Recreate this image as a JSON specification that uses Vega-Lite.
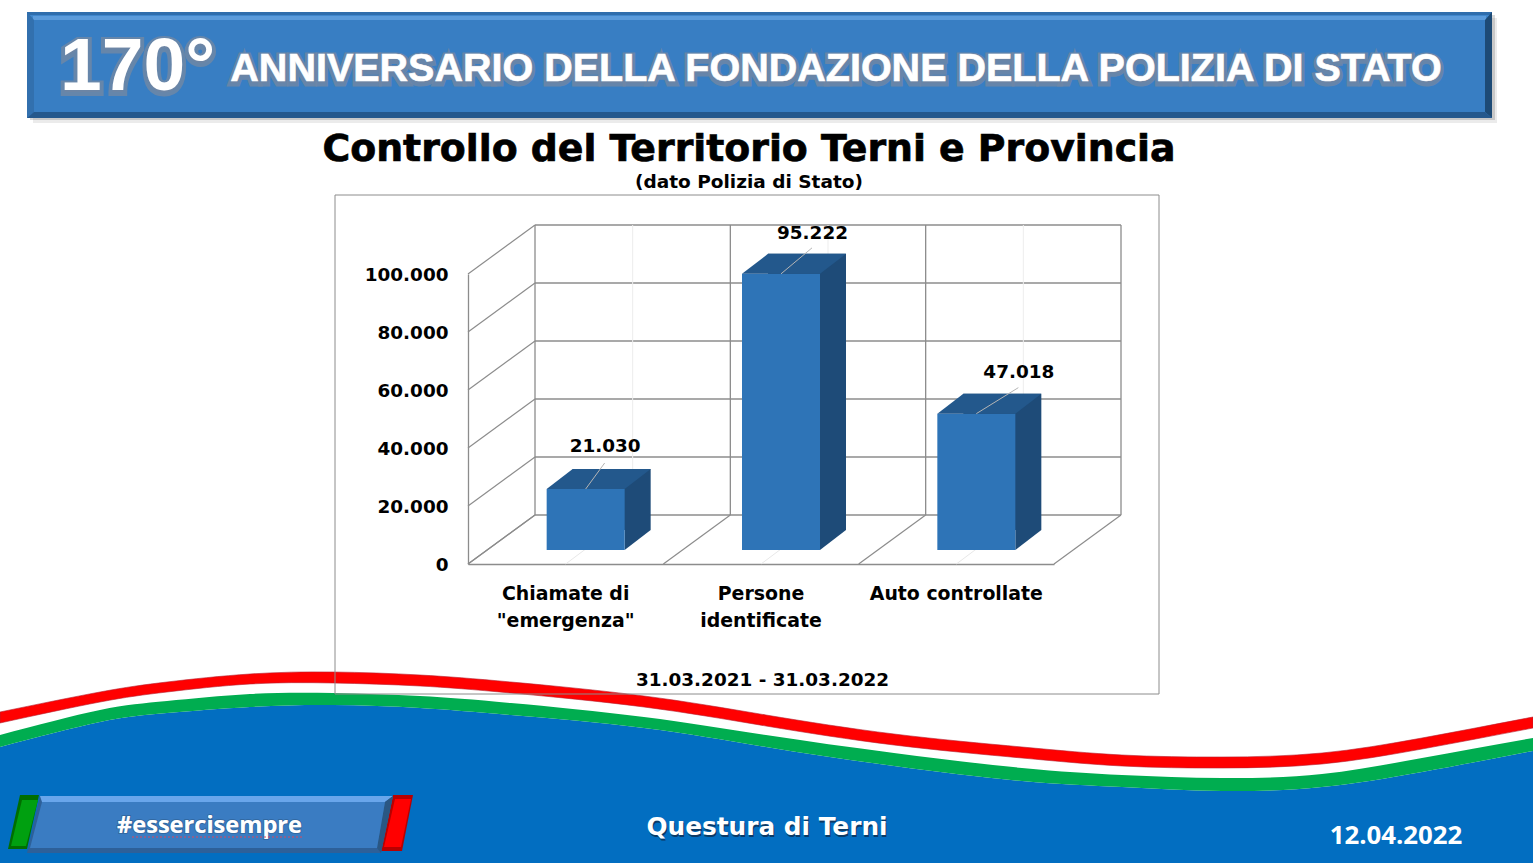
{
"$schema":"https://vega.github.io/schema/vega-lite/v6.json",
"width":1533,"height":863,"padding":0,"autosize":{"type":"none"},"background":"white",
"config":{"view":{"stroke":null},"locale":{"number":{"decimal":",","thousands":".","grouping":[3],"currency":["","€"]}}},
"data":{"values":[{"item":"page"}]},
"datasets":{
"bars":[{"categoria":"Chiamate di \"emergenza\"","valore":21030},{"categoria":"Persone identificate","valore":95222},{"categoria":"Auto controllate","valore":47018}],
"ticks":[{"tick":0},{"tick":20000},{"tick":40000},{"tick":60000},{"tick":80000},{"tick":100000}],
"walls":[{"pos":0},{"pos":1},{"pos":2},{"pos":3}],
"mids":[{"pos":0.5},{"pos":1.5},{"pos":2.5}],
"wave":[{"x":0,"rt":712,"rb":723,"gt":735,"gb":747},{"x":100,"rt":692,"rb":702,"gt":710,"gb":722},{"x":167,"rt":682,"rb":692,"gt":701,"gb":713},{"x":250,"rt":674,"rb":684,"gt":694,"gb":707},{"x":333,"rt":672,"rb":683,"gt":693,"gb":705},{"x":420,"rt":675,"rb":686,"gt":696,"gb":708},{"x":511,"rt":682,"rb":693,"gt":703,"gb":715},{"x":644,"rt":696,"rb":707,"gt":717,"gb":728},{"x":766,"rt":715,"rb":726,"gt":735,"gb":747},{"x":894,"rt":734,"rb":745,"gt":753,"gb":766},{"x":1022,"rt":747,"rb":758,"gt":768,"gb":781},{"x":1122,"rt":755,"rb":766,"gt":775,"gb":787},{"x":1222,"rt":757,"rb":768,"gt":778,"gb":791},{"x":1322,"rt":753,"rb":764,"gt":774,"gb":787},{"x":1422,"rt":738,"rb":749,"gt":758,"gb":772},{"x":1533,"rt":717,"rb":728,"gt":738,"gb":751}]
},
"resolve":{"scale":{"x":"independent","y":"independent"}},
"layer":[
{"layer":[
{"data":{"name":"wave"},"mark":{"type":"area","interpolate":"natural","color":"#026EC1"},"encoding":{"x":{"field":"x","type":"quantitative","scale":{"domain":[0,1533]},"axis":null},"y":{"field":"gb","type":"quantitative","stack":null,"scale":{"domain":[863,0]},"axis":null},"y2":{"datum":863}}},
{"data":{"name":"wave"},"mark":{"type":"area","interpolate":"natural","color":"#00AD50"},"encoding":{"x":{"field":"x","type":"quantitative","scale":{"domain":[0,1533]},"axis":null},"y":{"field":"gt","type":"quantitative","stack":null,"scale":{"domain":[863,0]},"axis":null},"y2":{"field":"gb"}}},
{"data":{"name":"wave"},"mark":{"type":"area","interpolate":"natural","color":"#FF0000","stroke":"#B5202E","strokeWidth":1,"strokeOpacity":0.6},"encoding":{"x":{"field":"x","type":"quantitative","scale":{"domain":[0,1533]},"axis":null},"y":{"field":"rt","type":"quantitative","stack":null,"scale":{"domain":[863,0]},"axis":null},"y2":{"field":"rb"}}},

{"mark":{"type":"rect","color":"#000000","opacity":0.08},"encoding":{"x":{"datum":33,"type":"quantitative","scale":{"domain":[0,1533]},"axis":null},"x2":{"datum":1497},"y":{"datum":18,"type":"quantitative","scale":{"domain":[863,0]},"axis":null},"y2":{"datum":123}}},
{"mark":{"type":"rect","color":"#000000","opacity":0.15},"encoding":{"x":{"datum":30,"type":"quantitative","scale":{"domain":[0,1533]},"axis":null},"x2":{"datum":1495},"y":{"datum":15,"type":"quantitative","scale":{"domain":[863,0]},"axis":null},"y2":{"datum":120}}},
{"mark":{"type":"rect","color":"#387EC3"},"encoding":{"x":{"datum":27,"type":"quantitative","scale":{"domain":[0,1533]},"axis":null},"x2":{"datum":1492},"y":{"datum":12,"type":"quantitative","scale":{"domain":[863,0]},"axis":null},"y2":{"datum":118}}},
{"mark":{"type":"point","shape":"M0,0L1465,0L1458,8L7,8Z","size":4,"filled":true,"opacity":1,"strokeWidth":0,"color":"#3F86CC"},"encoding":{"x":{"datum":27,"type":"quantitative","scale":{"domain":[0,1533]},"axis":null},"y":{"datum":12,"type":"quantitative","scale":{"domain":[863,0]},"axis":null}}},
{"mark":{"type":"rect","color":"#2F6DAC"},"encoding":{"x":{"datum":27,"type":"quantitative","scale":{"domain":[0,1533]},"axis":null},"x2":{"datum":1492},"y":{"datum":12,"type":"quantitative","scale":{"domain":[863,0]},"axis":null},"y2":{"datum":15}}},
{"mark":{"type":"rect","color":"#5B9BDB"},"encoding":{"x":{"datum":33,"type":"quantitative","scale":{"domain":[0,1533]},"axis":null},"x2":{"datum":1486},"y":{"datum":16,"type":"quantitative","scale":{"domain":[863,0]},"axis":null},"y2":{"datum":20}}},
{"mark":{"type":"point","shape":"M0,0L7,8L7,100L0,106Z","size":4,"filled":true,"opacity":1,"strokeWidth":0,"color":"#3270AE"},"encoding":{"x":{"datum":27,"type":"quantitative","scale":{"domain":[0,1533]},"axis":null},"y":{"datum":12,"type":"quantitative","scale":{"domain":[863,0]},"axis":null}}},
{"mark":{"type":"point","shape":"M0,0L0,106L-7,100L-7,8Z","size":4,"filled":true,"opacity":1,"strokeWidth":0,"color":"#1D4A75"},"encoding":{"x":{"datum":1492,"type":"quantitative","scale":{"domain":[0,1533]},"axis":null},"y":{"datum":12,"type":"quantitative","scale":{"domain":[863,0]},"axis":null}}},
{"mark":{"type":"point","shape":"M0,0L1465,0L1458,-6L7,-6Z","size":4,"filled":true,"opacity":1,"strokeWidth":0,"color":"#25588C"},"encoding":{"x":{"datum":27,"type":"quantitative","scale":{"domain":[0,1533]},"axis":null},"y":{"datum":118,"type":"quantitative","scale":{"domain":[863,0]},"axis":null}}},

{"mark":{"type":"text","text":"170°","font":"Liberation Sans","fontWeight":"bold","fontSize":75,"align":"left","baseline":"middle","fill":"#5F7A9E","stroke":"#6F87A6","strokeWidth":8,"strokeOpacity":0.85,"dy":2},"encoding":{"x":{"datum":60,"type":"quantitative","scale":{"domain":[0,1533]},"axis":null},"y":{"datum":67,"type":"quantitative","scale":{"domain":[863,0]},"axis":null}}},
{"mark":{"type":"text","text":"170°","font":"Liberation Sans","fontWeight":"bold","fontSize":75,"align":"left","baseline":"middle","fill":"#FFFFFF"},"encoding":{"x":{"datum":60,"type":"quantitative","scale":{"domain":[0,1533]},"axis":null},"y":{"datum":67,"type":"quantitative","scale":{"domain":[863,0]},"axis":null}}},
{"mark":{"type":"text","text":"ANNIVERSARIO DELLA FONDAZIONE DELLA POLIZIA DI STATO","font":"Liberation Sans","fontWeight":"bold","fontSize":39.5,"align":"center","baseline":"middle","fill":"#5F7A9E","stroke":"#6F87A6","strokeWidth":7,"strokeOpacity":0.85,"dy":2},"encoding":{"x":{"datum":836,"type":"quantitative","scale":{"domain":[0,1533]},"axis":null},"y":{"datum":69,"type":"quantitative","scale":{"domain":[863,0]},"axis":null}}},
{"mark":{"type":"text","text":"ANNIVERSARIO DELLA FONDAZIONE DELLA POLIZIA DI STATO","font":"Liberation Sans","fontWeight":"bold","fontSize":39.5,"align":"center","baseline":"middle","fill":"#FFFFFF","stroke":"#FFFFFF","strokeWidth":0.6},"encoding":{"x":{"datum":836,"type":"quantitative","scale":{"domain":[0,1533]},"axis":null},"y":{"datum":69,"type":"quantitative","scale":{"domain":[863,0]},"axis":null}}},

{"mark":{"type":"text","text":"Controllo del Territorio Terni e Provincia","font":"DejaVu Sans","fontWeight":"bold","fontSize":37.8,"align":"center","baseline":"middle","fill":"#000000","stroke":"#000000","strokeWidth":0.7},"encoding":{"x":{"datum":749,"type":"quantitative","scale":{"domain":[0,1533]},"axis":null},"y":{"datum":150,"type":"quantitative","scale":{"domain":[863,0]},"axis":null}}},
{"mark":{"type":"text","text":"(dato Polizia di Stato)","font":"DejaVu Sans","fontWeight":"bold","fontSize":18.5,"align":"center","baseline":"middle","fill":"#000000"},"encoding":{"x":{"datum":749,"type":"quantitative","scale":{"domain":[0,1533]},"axis":null},"y":{"datum":182,"type":"quantitative","scale":{"domain":[863,0]},"axis":null}}},
{"mark":{"type":"rect","fillOpacity":0,"fill":"#FFFFFF","stroke":"#8C8C8C","strokeWidth":1},"encoding":{"x":{"datum":335,"type":"quantitative","scale":{"domain":[0,1533]},"axis":null},"x2":{"datum":1159},"y":{"datum":195,"type":"quantitative","scale":{"domain":[863,0]},"axis":null},"y2":{"datum":694}}},
{"mark":{"type":"text","text":"31.03.2021 - 31.03.2022","font":"DejaVu Sans","fontWeight":"bold","fontSize":18.4,"align":"center","baseline":"middle","fill":"#000000"},"encoding":{"x":{"datum":762.5,"type":"quantitative","scale":{"domain":[0,1533]},"axis":null},"y":{"datum":680,"type":"quantitative","scale":{"domain":[863,0]},"axis":null}}},

{"mark":{"type":"point","shape":"M12,0L31,0L19,54L0,54Z","size":4,"filled":true,"opacity":1,"strokeWidth":0,"color":"#006E00"},"encoding":{"x":{"datum":8,"type":"quantitative","scale":{"domain":[0,1533]},"axis":null},"y":{"datum":795,"type":"quantitative","scale":{"domain":[863,0]},"axis":null}}},
{"mark":{"type":"point","shape":"M14,5L30,5L18,51L3,51Z","size":4,"filled":true,"opacity":1,"strokeWidth":0,"color":"#00A010"},"encoding":{"x":{"datum":8,"type":"quantitative","scale":{"domain":[0,1533]},"axis":null},"y":{"datum":795,"type":"quantitative","scale":{"domain":[863,0]},"axis":null}}},
{"mark":{"type":"point","shape":"M12,0L32,0L21,56L0,56Z","size":4,"filled":true,"opacity":1,"strokeWidth":0,"color":"#B80000"},"encoding":{"x":{"datum":381,"type":"quantitative","scale":{"domain":[0,1533]},"axis":null},"y":{"datum":795,"type":"quantitative","scale":{"domain":[863,0]},"axis":null}}},
{"mark":{"type":"point","shape":"M14,4L30,4L20,52L3,52Z","size":4,"filled":true,"opacity":1,"strokeWidth":0,"color":"#FF0000"},"encoding":{"x":{"datum":381,"type":"quantitative","scale":{"domain":[0,1533]},"axis":null},"y":{"datum":795,"type":"quantitative","scale":{"domain":[863,0]},"axis":null}}},
{"mark":{"type":"point","shape":"M13,0L366,0L354,57L0,57Z","size":4,"filled":true,"opacity":1,"strokeWidth":0,"color":"#2D6099"},"encoding":{"x":{"datum":27,"type":"quantitative","scale":{"domain":[0,1533]},"axis":null},"y":{"datum":796,"type":"quantitative","scale":{"domain":[863,0]},"axis":null}}},
{"mark":{"type":"point","shape":"M13,0L366,0L358,6L15,6Z","size":4,"filled":true,"opacity":1,"strokeWidth":0,"color":"#69A6EB"},"encoding":{"x":{"datum":27,"type":"quantitative","scale":{"domain":[0,1533]},"axis":null},"y":{"datum":796,"type":"quantitative","scale":{"domain":[863,0]},"axis":null}}},
{"mark":{"type":"point","shape":"M366,0L354,57L350,52L358,6Z","size":4,"filled":true,"opacity":1,"strokeWidth":0,"color":"#2A5783"},"encoding":{"x":{"datum":27,"type":"quantitative","scale":{"domain":[0,1533]},"axis":null},"y":{"datum":796,"type":"quantitative","scale":{"domain":[863,0]},"axis":null}}},
{"mark":{"type":"point","shape":"M15,6L358,6L350,52L3,52Z","size":4,"filled":true,"opacity":1,"strokeWidth":0,"color":"#3A7CC2"},"encoding":{"x":{"datum":27,"type":"quantitative","scale":{"domain":[0,1533]},"axis":null},"y":{"datum":796,"type":"quantitative","scale":{"domain":[863,0]},"axis":null}}},
{"mark":{"type":"text","text":"#essercisempre","font":"Open Sans","fontWeight":"bold","fontSize":23.6,"align":"center","baseline":"middle","fill":"#FFFFFF","stroke":"#2A5783","strokeWidth":2,"strokeOpacity":0.5},"encoding":{"x":{"datum":209.5,"type":"quantitative","scale":{"domain":[0,1533]},"axis":null},"y":{"datum":826,"type":"quantitative","scale":{"domain":[863,0]},"axis":null}}},
{"mark":{"type":"text","text":"#essercisempre","font":"Open Sans","fontWeight":"bold","fontSize":23.6,"align":"center","baseline":"middle","fill":"#FFFFFF"},"encoding":{"x":{"datum":209.5,"type":"quantitative","scale":{"domain":[0,1533]},"axis":null},"y":{"datum":826,"type":"quantitative","scale":{"domain":[863,0]},"axis":null}}},
{"mark":{"type":"rule","color":"#D9485F","strokeWidth":1,"strokeDash":[2,2]},"encoding":{"x":{"datum":132,"type":"quantitative","scale":{"domain":[0,1533]},"axis":null},"x2":{"datum":303},"y":{"datum":837,"type":"quantitative","scale":{"domain":[863,0]},"axis":null}}},
{"mark":{"type":"text","text":"Questura di Terni","font":"DejaVu Sans","fontWeight":"bold","fontSize":24.8,"align":"center","baseline":"middle","fill":"#0B3A66","dx":1,"dy":2},"encoding":{"x":{"datum":767,"type":"quantitative","scale":{"domain":[0,1533]},"axis":null},"y":{"datum":828,"type":"quantitative","scale":{"domain":[863,0]},"axis":null}}},
{"mark":{"type":"text","text":"Questura di Terni","font":"DejaVu Sans","fontWeight":"bold","fontSize":24.8,"align":"center","baseline":"middle","fill":"#FFFFFF"},"encoding":{"x":{"datum":767,"type":"quantitative","scale":{"domain":[0,1533]},"axis":null},"y":{"datum":828,"type":"quantitative","scale":{"domain":[863,0]},"axis":null}}},
{"mark":{"type":"text","text":"12.04.2022","font":"Open Sans","fontWeight":"bold","fontSize":25.8,"align":"center","baseline":"middle","fill":"#FFFFFF"},"encoding":{"x":{"datum":1396,"type":"quantitative","scale":{"domain":[0,1533]},"axis":null},"y":{"datum":836,"type":"quantitative","scale":{"domain":[863,0]},"axis":null}}}
]},

{"layer":[
{"data":{"name":"ticks"},"mark":{"type":"rule","color":"#8C8C8C","strokeWidth":1.3},"encoding":{"x":{"datum":0,"type":"quantitative","scale":{"domain":[0,3],"range":[535,1121]},"axis":null},"x2":{"datum":3},"y":{"field":"tick","type":"quantitative","scale":{"domain":[0,100000],"range":[515,225]},"axis":null}}},
{"data":{"name":"mids"},"mark":{"type":"rule","color":"#EDEDED","strokeWidth":1},"encoding":{"x":{"field":"pos","type":"quantitative","scale":{"domain":[0,3],"range":[535,1121]},"axis":null},"y":{"datum":0,"type":"quantitative","scale":{"domain":[0,100000],"range":[515,225]},"axis":null},"y2":{"datum":100000}}},
{"data":{"name":"walls"},"mark":{"type":"rule","color":"#8C8C8C","strokeWidth":1.3},"encoding":{"x":{"field":"pos","type":"quantitative","scale":{"domain":[0,3],"range":[535,1121]},"axis":null},"y":{"datum":0,"type":"quantitative","scale":{"domain":[0,100000],"range":[515,225]},"axis":null},"y2":{"datum":100000}}},
{"data":{"name":"ticks"},"mark":{"type":"point","shape":"M0,0L-67,49","size":4,"filled":false,"opacity":1,"color":"#8C8C8C","strokeWidth":1.2},"encoding":{"x":{"datum":0,"type":"quantitative","scale":{"domain":[0,3],"range":[535,1121]},"axis":null},"y":{"field":"tick","type":"quantitative","scale":{"domain":[0,100000],"range":[515,225]},"axis":null}}},
{"data":{"name":"walls"},"mark":{"type":"point","shape":"M0,0L-67,49","size":4,"filled":false,"opacity":1,"color":"#8C8C8C","strokeWidth":1.2},"encoding":{"x":{"field":"pos","type":"quantitative","scale":{"domain":[0,3],"range":[535,1121]},"axis":null},"y":{"datum":0,"type":"quantitative","scale":{"domain":[0,100000],"range":[515,225]},"axis":null}}}
]},

{"data":{"name":"bars"},"mark":{"type":"point","shape":"M0,0L20,-15","size":4,"filled":false,"opacity":1,"color":"#E8E8E8","strokeWidth":1},
"encoding":{
"x":{"field":"categoria","type":"nominal","sort":null,"scale":{"type":"band","padding":0,"range":[468,1054]},"axis":{"title":null,"orient":"bottom","offset":-299,"ticks":false,"labelAngle":0,"domainColor":"#8C8C8C","domainWidth":1.3,"labelFont":"DejaVu Sans","labelFontWeight":"bold","labelFontSize":18.9,"labelColor":"#000000","labelPadding":20,"labelLineHeight":27,"labelLimit":0,"labelExpr":"indexof(datum.label,'Auto')==0 ? datum.label : [slice(datum.label,0,lastindexof(datum.label,' ')), slice(datum.label,lastindexof(datum.label,' ')+1)]"}},
"y":{"datum":0,"type":"quantitative","scale":{"domain":[0,100000],"range":[564,274]},"axis":{"title":null,"orient":"left","offset":-468,"values":[0,20000,40000,60000,80000,100000],"labelExpr":"format(datum.value, ',')","grid":false,"ticks":false,"domainColor":"#8C8C8C","domainWidth":1.3,"labelFont":"DejaVu Sans","labelFontWeight":"bold","labelFontSize":18.4,"labelColor":"#000000","labelPadding":20}}
}},

{"data":{"name":"bars"},"layer":[
{"mark":{"type":"bar","width":78,"color":"#1E4B78","xOffset":26,"yOffset":-20},"encoding":{"x":{"field":"categoria","type":"nominal","sort":null,"scale":{"type":"band","padding":0,"range":[488,1074]},"axis":null},"y":{"field":"valore","type":"quantitative","scale":{"domain":[0,100000],"range":[550,260]},"axis":null}}},
{"mark":{"type":"point","shape":"M39,0L65,-20L39,-20Z","size":4,"filled":true,"opacity":1,"strokeWidth":0,"color":"#1E4B78"},"encoding":{"x":{"field":"categoria","type":"nominal","sort":null,"scale":{"type":"band","padding":0,"range":[488,1074]},"axis":null},"y":{"datum":0,"type":"quantitative","scale":{"domain":[0,100000],"range":[550,260]},"axis":null}}},
{"mark":{"type":"bar","width":78,"color":"#2E74B7"},"encoding":{"x":{"field":"categoria","type":"nominal","sort":null,"scale":{"type":"band","padding":0,"range":[488,1074]},"axis":null},"y":{"field":"valore","type":"quantitative","scale":{"domain":[0,100000],"range":[550,260]},"axis":null}}},
{"mark":{"type":"point","shape":"M-39,0L-13,-20L65,-20L39,0Z","size":4,"filled":true,"opacity":1,"strokeWidth":0,"color":"#23588C"},"encoding":{"x":{"field":"categoria","type":"nominal","sort":null,"scale":{"type":"band","padding":0,"range":[488,1074]},"axis":null},"y":{"field":"valore","type":"quantitative","scale":{"domain":[0,100000],"range":[550,260]},"axis":null}}},
{"transform":[{"filter":"datum.valore==21030"}],"mark":{"type":"point","shape":"M0,0L19,-26","size":4,"filled":false,"opacity":1,"color":"#B5B5B5","strokeWidth":1},"encoding":{"x":{"field":"categoria","type":"nominal","sort":null,"scale":{"type":"band","padding":0,"range":[488,1074]},"axis":null},"y":{"field":"valore","type":"quantitative","scale":{"domain":[0,100000],"range":[550,260]},"axis":null}}},
{"transform":[{"filter":"datum.valore==95222"}],"mark":{"type":"point","shape":"M0,0L31,-26","size":4,"filled":false,"opacity":1,"color":"#B5B5B5","strokeWidth":1},"encoding":{"x":{"field":"categoria","type":"nominal","sort":null,"scale":{"type":"band","padding":0,"range":[488,1074]},"axis":null},"y":{"field":"valore","type":"quantitative","scale":{"domain":[0,100000],"range":[550,260]},"axis":null}}},
{"transform":[{"filter":"datum.valore==47018"}],"mark":{"type":"point","shape":"M0,0L42,-26","size":4,"filled":false,"opacity":1,"color":"#B5B5B5","strokeWidth":1},"encoding":{"x":{"field":"categoria","type":"nominal","sort":null,"scale":{"type":"band","padding":0,"range":[488,1074]},"axis":null},"y":{"field":"valore","type":"quantitative","scale":{"domain":[0,100000],"range":[550,260]},"axis":null}}},
{"transform":[{"filter":"datum.valore==21030"}],"mark":{"type":"text","font":"DejaVu Sans","fontWeight":"bold","fontSize":18.4,"fill":"#000000","align":"center","baseline":"middle","dx":19.5,"dy":-43},"encoding":{"text":{"field":"valore","type":"quantitative","format":","},"x":{"field":"categoria","type":"nominal","sort":null,"scale":{"type":"band","padding":0,"range":[488,1074]},"axis":null},"y":{"field":"valore","type":"quantitative","scale":{"domain":[0,100000],"range":[550,260]},"axis":null}}},
{"transform":[{"filter":"datum.valore==95222"}],"mark":{"type":"text","font":"DejaVu Sans","fontWeight":"bold","fontSize":18.4,"fill":"#000000","align":"center","baseline":"middle","dx":31.5,"dy":-41},"encoding":{"text":{"field":"valore","type":"quantitative","format":","},"x":{"field":"categoria","type":"nominal","sort":null,"scale":{"type":"band","padding":0,"range":[488,1074]},"axis":null},"y":{"field":"valore","type":"quantitative","scale":{"domain":[0,100000],"range":[550,260]},"axis":null}}},
{"transform":[{"filter":"datum.valore==47018"}],"mark":{"type":"text","font":"DejaVu Sans","fontWeight":"bold","fontSize":18.4,"fill":"#000000","align":"center","baseline":"middle","dx":42.5,"dy":-42},"encoding":{"text":{"field":"valore","type":"quantitative","format":","},"x":{"field":"categoria","type":"nominal","sort":null,"scale":{"type":"band","padding":0,"range":[488,1074]},"axis":null},"y":{"field":"valore","type":"quantitative","scale":{"domain":[0,100000],"range":[550,260]},"axis":null}}}
]}
]
}
